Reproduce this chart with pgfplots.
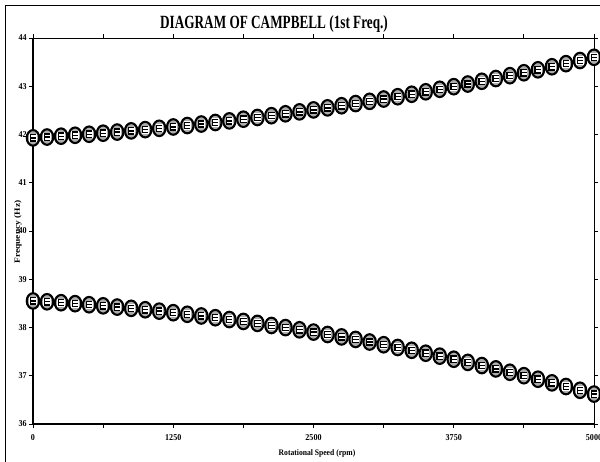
\documentclass[border=0pt]{standalone}
\usepackage{fontspec}
\setmainfont{Liberation Serif}
\usepackage{pgfplots}
\usepackage{pgfplotstable}
\pgfplotsset{compat=1.18}
\pgfdeclareplotmark{camp}{%
  \pgfsetlinewidth{2.1bp}%
  \pgfsetfillcolor{gray!65}%
  \pgfpathellipse{\pgfpointorigin}{\pgfqpoint{0.8\pgfplotmarksize}{0pt}}{\pgfqpoint{0pt}{\pgfplotmarksize}}%
  \pgfusepathqfillstroke
  \pgfsetfillcolor{white}%
  \pgfpathrectangle{\pgfqpoint{-0.46\pgfplotmarksize}{-0.52\pgfplotmarksize}}{\pgfqpoint{0.92\pgfplotmarksize}{1.04\pgfplotmarksize}}%
  \pgfusepathqfill
  \pgfsetlinewidth{1.3bp}%
  \pgfpathmoveto{\pgfqpoint{0.40\pgfplotmarksize}{0.40\pgfplotmarksize}}%
  \pgfpathlineto{\pgfqpoint{-0.36\pgfplotmarksize}{0.40\pgfplotmarksize}}%
  \pgfpathlineto{\pgfqpoint{-0.36\pgfplotmarksize}{-0.40\pgfplotmarksize}}%
  \pgfpathlineto{\pgfqpoint{0.40\pgfplotmarksize}{-0.40\pgfplotmarksize}}%
  \pgfpathmoveto{\pgfqpoint{-0.36\pgfplotmarksize}{0pt}}%
  \pgfpathlineto{\pgfqpoint{0.40\pgfplotmarksize}{0pt}}%
  \pgfusepathqstroke
}
\pgfplotstableread{
rpm f
0 41.930
125 41.947
250 41.965
375 41.984
500 42.005
625 42.027
750 42.050
875 42.075
1000 42.101
1125 42.128
1250 42.156
1375 42.186
1500 42.217
1625 42.249
1750 42.282
1875 42.317
2000 42.353
2125 42.390
2250 42.429
2375 42.469
2500 42.510
2625 42.552
2750 42.596
2875 42.641
3000 42.687
3125 42.735
3250 42.783
3375 42.834
3500 42.885
3625 42.937
3750 42.991
3875 43.046
4000 43.103
4125 43.160
4250 43.219
4375 43.280
4500 43.341
4625 43.404
4750 43.468
4875 43.533
5000 43.600
}\forward
\pgfplotstableread{
rpm f
0 38.550
125 38.533
250 38.514
375 38.494
500 38.472
625 38.449
750 38.423
875 38.397
1000 38.368
1125 38.339
1250 38.307
1375 38.274
1500 38.239
1625 38.203
1750 38.165
1875 38.126
2000 38.085
2125 38.042
2250 37.998
2375 37.952
2500 37.905
2625 37.855
2750 37.805
2875 37.753
3000 37.699
3125 37.643
3250 37.586
3375 37.528
3500 37.467
3625 37.406
3750 37.342
3875 37.277
4000 37.211
4125 37.142
4250 37.072
4375 37.001
4500 36.928
4625 36.853
4750 36.777
4875 36.699
5000 36.620
}\backward
\begin{document}
\begin{tikzpicture}[x=1bp,y=1bp]
\path[use as bounding box] (0,0) rectangle (600,462);
\draw[line width=1bp] (5,-2) -- (5,456) -- (602,456);
\begin{axis}[at={(33bp,38bp)}, anchor=south west,
  width=561bp, height=386bp, scale only axis,
  xmin=0, xmax=5000, ymin=36, ymax=44,
  xtick={0,625,...,5000}, xticklabels={0,,1250,,2500,,3750,,5000},
  ytick={36,37,...,44}, yticklabels={36,37,38,39,40,41,42,43,44},
  tick align=outside, major tick length=4bp,
  tick style={black, line width=0.8bp},
  axis line style={line width=0.8bp},
  ticklabel style={font=\fontsize{9}{10}\selectfont\bfseries, xscale=0.9},
  xticklabel style={yshift=-3bp},
  yticklabel style={xshift=1bp},
  clip=false, axis on top,
]
\addplot[only marks, mark=camp, mark size=7.8bp] table[x=rpm,y=f] {\forward};
\addplot[only marks, mark=camp, mark size=7.8bp] table[x=rpm,y=f] {\backward};
\draw[line width=2bp] (rel axis cs:0,1) -- (rel axis cs:0,0) -- (rel axis cs:1,0);
\end{axis}
\node[font=\fontsize{17}{19}\selectfont\bfseries, xscale=0.78, yscale=1.1] at (274,438) {DIAGRAM OF CAMPBELL (1st Freq.)};
\node[font=\fontsize{9.5}{10}\selectfont\bfseries, rotate=90, yscale=0.85] at (18,230) {Frequency (Hz)};
\node[font=\fontsize{8.5}{9}\selectfont\bfseries, xscale=0.9] at (317,9) {Rotational Speed (rpm)};
\end{tikzpicture}
\end{document}
